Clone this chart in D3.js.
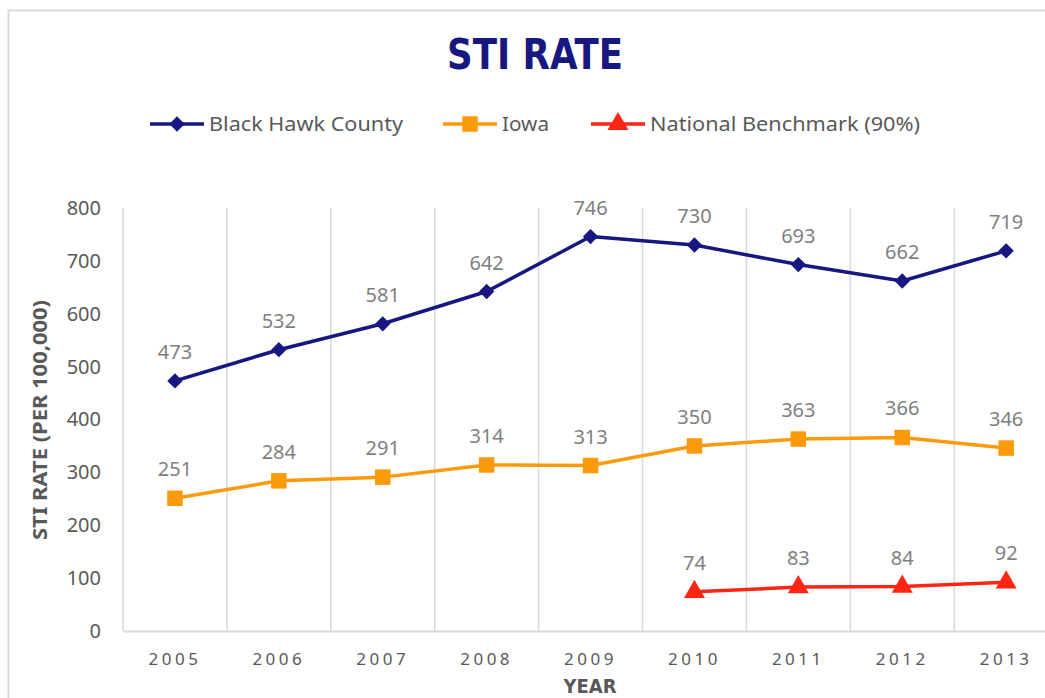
<!DOCTYPE html>
<html>
<head>
<meta charset="utf-8">
<script src="https://cdn.jsdelivr.net/npm/d3@7"></script>
<style>
  body { margin: 0; background: #fff; }
  svg { display: block; }
  text { font-family: "Noto Sans", "Open Sans", sans-serif; }
</style>
</head>
<body>
<div id="chart"></div>
<script>
// Chart data
const years = ['2005', '2006', '2007', '2008', '2009', '2010', '2011', '2012', '2013']
const blackHawk = [473, 532, 581, 642, 746, 730, 693, 662, 719]
const iowa = [251, 284, 291, 314, 313, 350, 363, 366, 346]
const national = [null, null, null, null, null, 74, 83, 84, 92]
const yTicks = [0, 100, 200, 300, 400, 500, 600, 700, 800]

const series = [
  { name: 'Black Hawk County', values: blackHawk, color: '#16177f', symbol: d3.symbolDiamond2, size: 150, textW: 194 },
  { name: 'Iowa', values: iowa, color: '#fb9a0a', symbol: d3.symbolSquare, size: 240, textW: 47 },
  { name: 'National Benchmark (90%)', values: national, color: '#fe2513', symbol: d3.symbolTriangle, size: 190, textW: 270 }
]

const width = 1045
const height = 698
const plot = { left: 123, top: 208, bottom: 631, band: 103.9 }

const svg = d3.select('#chart')
  .append('svg')
  .attr('width', width)
  .attr('height', height)

// chart frame
svg.append('rect')
  .attr('x', 8.5).attr('y', 10.5)
  .attr('width', 1100).attr('height', 800)
  .attr('fill', 'none')
  .attr('stroke', '#d9d9d9')
  .attr('stroke-width', 2)

const x = d3.scaleBand()
  .domain(years)
  .range([plot.left, plot.left + plot.band * years.length])

const y = d3.scaleLinear()
  .domain([0, 800])
  .range([plot.bottom, plot.top])

// vertical gridlines at band edges
svg.append('g')
  .selectAll('line')
  .data(years.concat(['end']))
  .enter().append('line')
  .attr('x1', (d, i) => plot.left + i * x.bandwidth())
  .attr('x2', (d, i) => plot.left + i * x.bandwidth())
  .attr('y1', plot.top)
  .attr('y2', plot.bottom)
  .attr('stroke', '#d9d9d9')
  .attr('stroke-width', 1.5)

// x axis
const xAxis = svg.append('g')
  .attr('transform', `translate(0, ${plot.bottom})`)
  .call(d3.axisBottom(x).tickSize(0).tickPadding(22))
xAxis.select('.domain').attr('stroke', '#d9d9d9').attr('stroke-width', 2)
xAxis.selectAll('text')
  .attr('fill', '#595959')
  .style('font-size', '17px')
  .style('letter-spacing', '3.5px')
  .style('font-family', '"Noto Sans", sans-serif')

// y axis labels
const yAxis = svg.append('g')
  .attr('transform', `translate(${plot.left - 22}, 0)`)
  .call(d3.axisLeft(y).tickValues(yTicks).tickSize(0).tickPadding(0))
yAxis.select('.domain').remove()
yAxis.selectAll('text')
  .attr('fill', '#595959')
  .style('font-size', '20px')
  .style('font-family', '"Noto Sans", sans-serif')

// title
svg.append('text')
  .attr('x', 535).attr('y', 69)
  .attr('text-anchor', 'middle')
  .attr('fill', '#16177f')
  .attr('textLength', 176)
  .attr('lengthAdjust', 'spacingAndGlyphs')
  .style('font-family', '"DejaVu Sans Condensed", "DejaVu Sans", sans-serif')
  .style('font-weight', 'bold')
  .style('font-size', '42px')
  .text('STI RATE')

// axis titles
svg.append('text')
  .attr('transform', 'translate(47, 420) rotate(-90)')
  .attr('text-anchor', 'middle')
  .attr('fill', '#595959')
  .attr('textLength', 240)
  .attr('lengthAdjust', 'spacingAndGlyphs')
  .style('font-weight', 'bold')
  .style('font-size', '20px')
  .text('STI RATE (PER 100,000)')

svg.append('text')
  .attr('x', 590).attr('y', 693)
  .attr('text-anchor', 'middle')
  .attr('fill', '#595959')
  .attr('textLength', 53)
  .attr('lengthAdjust', 'spacingAndGlyphs')
  .style('font-weight', 'bold')
  .style('font-size', '20px')
  .style('font-family', '"DejaVu Sans Condensed", "DejaVu Sans", sans-serif')
  .text('YEAR')

// lines, markers and labels
const line = d3.line()
  .defined(d => d.v !== null)
  .x(d => x(d.year) + x.bandwidth() / 2)
  .y(d => y(d.v))

series.forEach(s => {
  const pts = years.map((yr, i) => ({ year: yr, v: s.values[i] }))
  const valid = pts.filter(d => d.v !== null)
  const g = svg.append('g')

  g.append('path')
    .datum(pts)
    .attr('d', line)
    .attr('fill', 'none')
    .attr('stroke', s.color)
    .attr('stroke-width', 3.5)
    .attr('stroke-linejoin', 'round')

  g.selectAll('path.marker')
    .data(valid)
    .enter().append('path')
    .attr('class', 'marker')
    .attr('d', d3.symbol().type(s.symbol).size(s.size))
    .attr('transform', d => `translate(${x(d.year) + x.bandwidth() / 2}, ${y(d.v)})`)
    .attr('fill', s.color)

  g.selectAll('text')
    .data(valid)
    .enter().append('text')
    .attr('x', d => x(d.year) + x.bandwidth() / 2)
    .attr('y', d => y(d.v) - 22)
    .attr('text-anchor', 'middle')
    .attr('fill', '#7f7f7f')
    .style('font-size', '20px')
    .text(d => d.v)
})

// legend
const legendPos = [150, 443, 591]
const legend = svg.append('g')
  .selectAll('g')
  .data(series)
  .enter().append('g')
  .attr('transform', (d, i) => `translate(${legendPos[i]}, 124)`)

legend.append('line')
  .attr('x1', 0).attr('x2', 54)
  .attr('stroke', d => d.color)
  .attr('stroke-width', 3.5)
legend.append('path')
  .attr('d', d => d3.symbol().type(d.symbol).size(d.size)())
  .attr('transform', 'translate(27, 0)')
  .attr('fill', d => d.color)
legend.append('text')
  .attr('x', 59).attr('y', 7)
  .attr('fill', '#595959')
  .attr('textLength', d => d.textW)
  .attr('lengthAdjust', 'spacingAndGlyphs')
  .style('font-size', '20px')
  .text(d => d.name)
</script>
</body>
</html>
